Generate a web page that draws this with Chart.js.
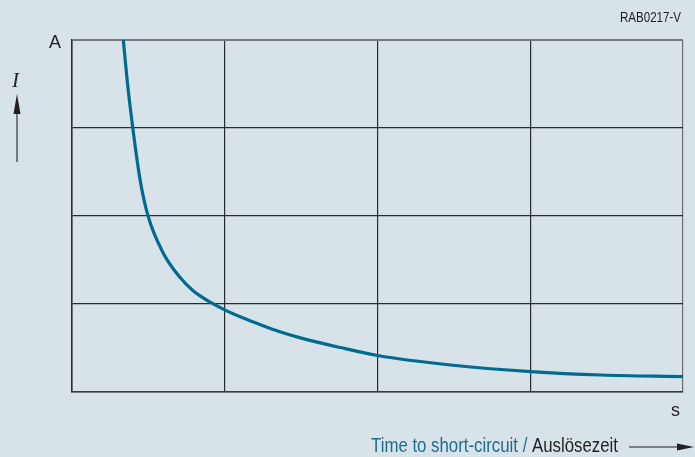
<!DOCTYPE html>
<html>
<head>
<meta charset="utf-8">
<script src="https://cdn.jsdelivr.net/npm/chart.js@4"></script>
<style>
  html, body { margin: 0; padding: 0; background: #d7e3e9; }
  #wrap { position: relative; width: 695px; height: 457px; }
</style>
</head>
<body>
<div id="wrap"><canvas id="chart" width="695" height="457"></canvas></div>
<script>
// curve (time in grid units, current in grid units)
const timeValues = [0.336, 0.361, 0.398, 0.446, 0.498, 0.597, 0.708, 0.793, 0.905, 1.003, 1.121, 1.233, 1.351, 1.495, 1.757, 2.0, 2.479, 3.003, 3.462, 4.0];
const currentValues = [4.0, 3.545, 3.0, 2.41, 2.0, 1.58, 1.30, 1.15, 1.02, 0.93, 0.84, 0.765, 0.69, 0.615, 0.505, 0.415, 0.307, 0.232, 0.193, 0.174];
const gridTicks = [0, 1, 2, 3, 4];

const points = timeValues.map((t, i) => ({ x: t, y: currentValues[i] }));

const narrow = '"Liberation Sans Narrow", "Liberation Sans", Arial';

// draw text squeezed to a given width (the original uses a condensed face)
function squeezed(c, text, x, y, width) {
  const w = c.measureText(text).width;
  const k = width / w;
  c.save();
  c.translate(x, y);
  c.scale(k, 1);
  c.fillText(text, 0, 0);
  c.restore();
  return k;
}

// labels and arrows around the plot
const labelsPlugin = {
  id: 'labels',
  afterDraw(chart) {
    const c = chart.ctx;
    c.save();
    c.textBaseline = 'alphabetic';
    c.textAlign = 'left';

    // unit A
    c.fillStyle = '#231f20';
    c.font = '19px ' + narrow;
    squeezed(c, 'A', 49, 48, 12);

    // I symbol
    c.font = 'italic 21px "Liberation Serif", serif';
    c.fillText('I', 12, 87);

    // vertical arrow
    c.strokeStyle = '#7a7a7a';
    c.lineWidth = 2;
    c.beginPath();
    c.moveTo(17, 162);
    c.lineTo(17, 110);
    c.stroke();
    c.fillStyle = '#231f20';
    c.beginPath();
    c.moveTo(17, 94);
    c.lineTo(20.5, 114);
    c.lineTo(13.5, 114);
    c.closePath();
    c.fill();

    // code top right
    c.font = '14px ' + narrow;
    squeezed(c, 'RAB0217-V', 620, 22, 61);

    // unit s
    c.font = '19px ' + narrow;
    squeezed(c, 's', 671, 416, 9);

    // axis title
    c.font = '20px ' + narrow;
    const part1 = 'Time to short-circuit / ';
    const part2 = 'Auslösezeit';
    const full = c.measureText(part1 + part2).width;
    const k = 247 / full;
    c.fillStyle = '#1a6f8f';
    squeezed(c, part1, 371, 452, c.measureText(part1).width * k);
    c.fillStyle = '#231f20';
    squeezed(c, part2, 371 + c.measureText(part1).width * k, 452, c.measureText(part2).width * k);

    // horizontal arrow
    c.strokeStyle = '#231f20';
    c.lineWidth = 1.2;
    c.beginPath();
    c.moveTo(629, 447);
    c.lineTo(680, 447);
    c.stroke();
    c.beginPath();
    c.moveTo(694, 447);
    c.lineTo(677, 443.5);
    c.lineTo(677, 450.5);
    c.closePath();
    c.fill();
    c.restore();
  }
};

const ctx = document.getElementById('chart').getContext('2d');
const myChart = new Chart(ctx, {
  type: 'scatter',
  data: {
    datasets: [{
      data: points,
      showLine: true,
      borderColor: '#006b8f',
      borderWidth: 3.2,
      pointRadius: 0,
      cubicInterpolationMode: 'monotone',
      fill: false
    }]
  },
  options: {
    responsive: false,
    animation: false,
    layout: { padding: { left: 72, top: 40, right: 12, bottom: 65 } },
    plugins: { legend: { display: false }, tooltip: { enabled: false } },
    scales: {
      x: {
        type: 'linear', min: 0, max: 4,
        afterBuildTicks: s => { s.ticks = gridTicks.map(v => ({ value: v })); },
        afterFit: s => { s.height = 0; },
        ticks: { display: false },
        grid: {
          drawTicks: false,
          color: ctx => ctx.tick && ctx.tick.value === 4 ? '#6d6d6d' : '#2b2b2b',
          lineWidth: 1.2
        },
        border: { display: true, color: '#3a3a3a', width: 1.5 }
      },
      y: {
        type: 'linear', min: 0, max: 4,
        afterBuildTicks: s => { s.ticks = gridTicks.map(v => ({ value: v })); },
        afterFit: s => { s.width = 0; },
        ticks: { display: false },
        grid: {
          drawTicks: false,
          color: ctx => ctx.tick && ctx.tick.value === 4 ? '#7a7a7a' : '#2b2b2b',
          lineWidth: ctx => ctx.tick && ctx.tick.value === 4 ? 2 : 1.2
        },
        border: { display: true, color: '#2b2b2b', width: 1.5 }
      }
    }
  },
  plugins: [labelsPlugin]
});
</script>
</body>
</html>
